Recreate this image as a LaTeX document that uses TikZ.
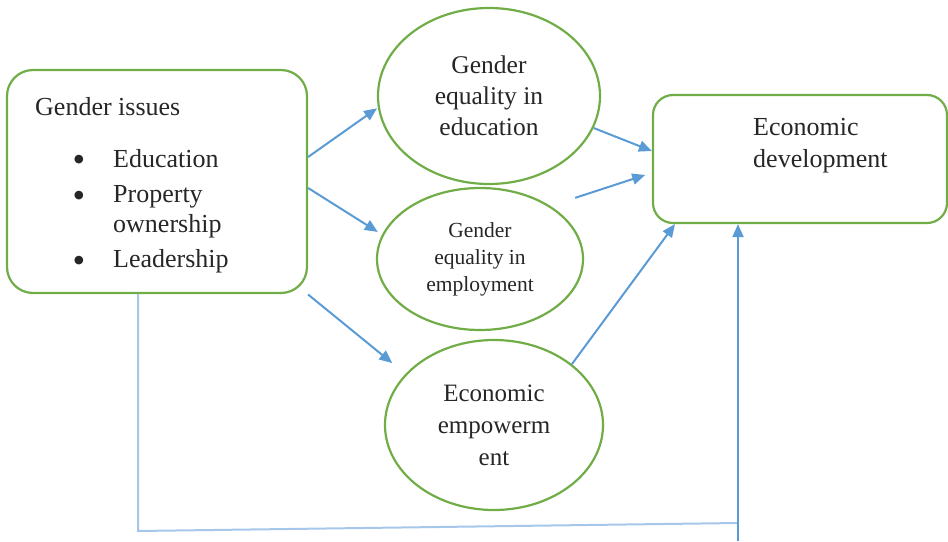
\documentclass[tikz,border=0pt]{standalone}
\usepackage{fontspec}
\setmainfont{Liberation Serif}
\usetikzlibrary{arrows.meta,shapes.geometric,calc}
\definecolor{boxgreen}{HTML}{70AD47}
\definecolor{arrblue}{HTML}{5B9BD5}
\definecolor{lineblue}{HTML}{A7C7EA}
\begin{document}
\begin{tikzpicture}[x=1pt,y=-1pt,
  rbox/.style={draw=boxgreen,line width=2.2pt,rectangle,inner sep=0pt},
  oval/.style={draw=boxgreen,line width=2.2pt,ellipse,inner sep=0pt,align=center,text=black!85},
  arr/.style={draw=arrblue,line width=2pt,-{Triangle[length=13pt,width=11pt]}},
  conn/.style={draw=lineblue,line width=2pt},
  txt/.style={inner sep=0pt,anchor=base west,text=black!85,font=\fontsize{26}{30}\selectfont},
  bul/.style={inner sep=0pt,anchor=center,text=black!85,font=\fontsize{36}{36}\selectfont}]
\useasboundingbox (0,0) rectangle (948,541);
% nodes
\node[rbox,rounded corners=26pt,minimum width=300pt,minimum height=223pt] (gi) at (157,181.5) {};
\node[oval,minimum width=222pt,minimum height=176pt,font=\fontsize{25.5}{31}\selectfont] (ge) at (489,96) {Gender\\equality in\\education};
\node[oval,minimum width=206pt,minimum height=142pt,font=\fontsize{21.5}{27}\selectfont] (gm) at (480,259) {Gender\\equality in\\employment};
\node[oval,minimum width=218pt,minimum height=170pt,font=\fontsize{25}{32}\selectfont] (em) at (494,425) {Economic\\empowerm\\ent};
\node[rbox,rounded corners=20pt,minimum width=294pt,minimum height=128pt] (ed) at (800,159) {};
% texts
\node[txt] (t0) at (35,115) {Gender issues};
\node[bul] (b1) at (79,163) {•};
\node[txt] (t1) at (113,167) {Education};
\node[bul] (b2) at (79,199) {•};
\node[txt] (t2) at (113,202) {Property};
\node[txt] (t3) at (113,232) {ownership};
\node[bul] (b4) at (79,264) {•};
\node[txt] (t4) at (113,267) {Leadership};
\node[txt] (e1) at (753,135) {Economic};
\node[txt] (e2) at (753,167) {development};
% connectors
\draw[arr,shorten >=1pt] ([yshift=24.5pt]gi.east) -- (ge.186);
\draw[arr,shorten >=5pt] ([yshift=-6.5pt]gi.east) -- (gm.166);
\draw[arr,shorten >=17pt] ([yshift=-113pt]gi.east) -- (em.150);
\draw[arr] (ge.-17) -- ([yshift=8pt]ed.west);
\draw[arr,shorten <=26pt,shorten >=7pt] (gm.37.5) -- ([yshift=-13.8pt]ed.west);
\draw[arr] (em.38) -- ([xshift=-125pt]ed.south);
\coordinate (c1) at (138,531);
\coordinate (c2) at (738,523);
\coordinate (c3) at (738,541);
\draw[conn] ([xshift=-19pt]gi.south) -- (c1) -- (c2);
\draw[arr] (c3) -- ([xshift=-62pt]ed.south);
\end{tikzpicture}
\end{document}
